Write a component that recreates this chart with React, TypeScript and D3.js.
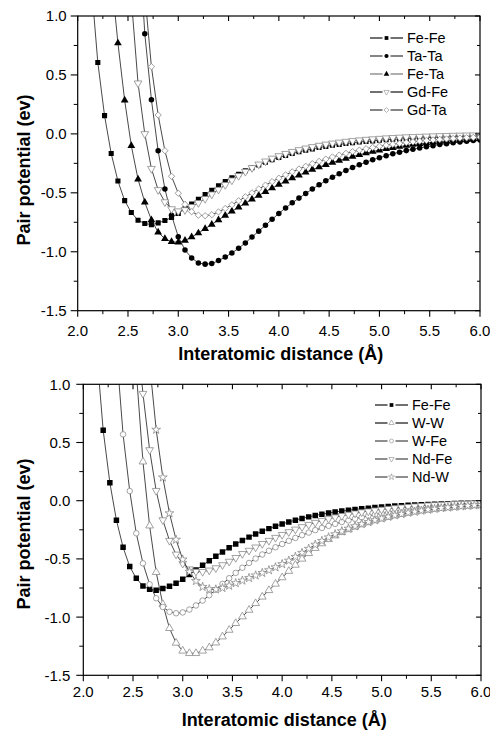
import React from "react";
import * as d3 from "d3";

// Interatomic distance grid (Å)
const distance = [
  2.0, 2.067, 2.133, 2.2, 2.267, 2.333, 2.4, 2.467, 2.533, 2.6, 2.667, 2.733, 2.8, 2.867, 2.933,
  3.0, 3.067, 3.133, 3.2, 3.267, 3.333, 3.4, 3.467, 3.533, 3.6, 3.667, 3.733, 3.8, 3.867, 3.933,
  4.0, 4.067, 4.133, 4.2, 4.267, 4.333, 4.4, 4.467, 4.533, 4.6, 4.667, 4.733, 4.8, 4.867, 4.933,
  5.0, 5.067, 5.133, 5.2, 5.267, 5.333, 5.4, 5.467, 5.533, 5.6, 5.667, 5.733, 5.8, 5.867, 5.933, 6.0,
];

const N = null;

const feFe = [N, N, 1.3, 0.605, 0.155, -0.167, -0.4, -0.566, -0.667, -0.733, -0.76, -0.77, -0.755, -0.735, -0.71,
  -0.675, -0.635, -0.595, -0.555, -0.515, -0.478, -0.44, -0.405, -0.372, -0.342, -0.313, -0.287, -0.263, -0.24, -0.22,
  -0.2, -0.183, -0.167, -0.152, -0.139, -0.127, -0.116, -0.106, -0.097, -0.089, -0.082, -0.075, -0.069, -0.064, -0.059,
  -0.054, -0.05, -0.046, -0.043, -0.04, -0.037, -0.034, -0.032, -0.03, -0.028, -0.026, -0.024, -0.022, -0.021, -0.02, -0.018];

const taTa = [N, N, N, N, N, N, N, N, N, 1.8, 0.85, 0.29, -0.144, -0.467, -0.69,
  -0.872, -0.985, -1.052, -1.095, -1.105, -1.1, -1.075, -1.045, -1.01, -0.97, -0.925, -0.875, -0.825, -0.775, -0.725,
  -0.675, -0.628, -0.585, -0.545, -0.505, -0.468, -0.432, -0.398, -0.367, -0.338, -0.31, -0.285, -0.262, -0.24, -0.22,
  -0.202, -0.185, -0.169, -0.155, -0.142, -0.13, -0.119, -0.109, -0.1, -0.091, -0.083, -0.076, -0.069, -0.063, -0.057, -0.052];

const feTa = [N, N, N, N, N, 1.35, 0.77, 0.285, -0.1, -0.385, -0.58, -0.73, -0.835, -0.89, -0.915,
  -0.92, -0.905, -0.875, -0.842, -0.805, -0.768, -0.73, -0.693, -0.657, -0.622, -0.588, -0.555, -0.522, -0.49, -0.46,
  -0.43, -0.402, -0.375, -0.35, -0.326, -0.303, -0.282, -0.262, -0.243, -0.225, -0.208, -0.192, -0.177, -0.163, -0.15,
  -0.138, -0.127, -0.117, -0.108, -0.099, -0.091, -0.084, -0.077, -0.071, -0.065, -0.06, -0.055, -0.051, -0.047, -0.043, -0.04];

const gdFe = [N, N, N, N, N, N, N, N, 1.15, 0.43, 0.0, -0.295, -0.475, -0.578, -0.637,
  -0.655, -0.645, -0.618, -0.585, -0.55, -0.512, -0.472, -0.432, -0.393, -0.355, -0.32, -0.288, -0.258, -0.232, -0.208,
  -0.187, -0.168, -0.151, -0.136, -0.122, -0.11, -0.099, -0.089, -0.08, -0.072, -0.065, -0.059, -0.053, -0.048, -0.044,
  -0.04, -0.036, -0.033, -0.03, -0.027, -0.025, -0.023, -0.021, -0.019, -0.017, -0.016, -0.014, -0.013, -0.012, -0.011, -0.01];

const gdTa = [N, N, N, N, N, N, N, N, N, N, 1.19, 0.57, 0.16, -0.143, -0.36,
  -0.504, -0.598, -0.66, -0.69, -0.694, -0.686, -0.662, -0.633, -0.602, -0.568, -0.534, -0.5, -0.467, -0.435, -0.405,
  -0.376, -0.348, -0.322, -0.298, -0.275, -0.253, -0.233, -0.214, -0.196, -0.18, -0.165, -0.151, -0.138, -0.126, -0.115,
  -0.105, -0.096, -0.088, -0.08, -0.073, -0.067, -0.061, -0.056, -0.051, -0.047, -0.043, -0.039, -0.036, -0.033, -0.03, -0.028];

const wW = [N, N, N, N, N, N, N, N, 1.11, 0.335, -0.215, -0.615, -0.89, -1.096, -1.222,
  -1.29, -1.311, -1.311, -1.29, -1.262, -1.22, -1.168, -1.111, -1.053, -0.996, -0.939, -0.882, -0.826, -0.77, -0.715,
  -0.66, -0.605, -0.552, -0.5, -0.452, -0.408, -0.368, -0.332, -0.3, -0.272, -0.247, -0.225, -0.205, -0.187, -0.17,
  -0.155, -0.141, -0.128, -0.116, -0.105, -0.095, -0.086, -0.078, -0.071, -0.065, -0.059, -0.054, -0.049, -0.045, -0.041, -0.038];

const wFe = [N, N, N, N, N, 1.3, 0.57, 0.083, -0.28, -0.538, -0.718, -0.838, -0.913, -0.955, -0.967,
  -0.96, -0.935, -0.9, -0.858, -0.812, -0.765, -0.715, -0.666, -0.62, -0.576, -0.535, -0.497, -0.462, -0.43, -0.4,
  -0.372, -0.345, -0.32, -0.296, -0.274, -0.253, -0.234, -0.216, -0.199, -0.183, -0.169, -0.155, -0.142, -0.13, -0.119,
  -0.109, -0.1, -0.091, -0.083, -0.076, -0.069, -0.063, -0.057, -0.052, -0.047, -0.043, -0.039, -0.035, -0.032, -0.029, -0.026];

const ndFe = [N, N, N, N, N, N, N, N, 1.5, 0.92, 0.436, 0.086, -0.166, -0.343, -0.461,
  -0.54, -0.588, -0.608, -0.61, -0.598, -0.578, -0.552, -0.522, -0.49, -0.456, -0.428, -0.4, -0.37, -0.343, -0.317,
  -0.292, -0.268, -0.246, -0.225, -0.206, -0.188, -0.171, -0.156, -0.142, -0.13, -0.118, -0.108, -0.098, -0.09, -0.082,
  -0.075, -0.068, -0.062, -0.057, -0.052, -0.047, -0.043, -0.039, -0.036, -0.033, -0.03, -0.027, -0.025, -0.023, -0.021, -0.019];

const ndW = [N, N, N, N, N, N, N, N, N, N, 1.18, 0.61, 0.2, -0.108, -0.335,
  -0.505, -0.61, -0.69, -0.74, -0.76, -0.762, -0.75, -0.73, -0.708, -0.686, -0.664, -0.642, -0.62, -0.597, -0.572,
  -0.545, -0.515, -0.482, -0.448, -0.413, -0.378, -0.345, -0.315, -0.288, -0.262, -0.24, -0.219, -0.2, -0.183, -0.167,
  -0.152, -0.138, -0.125, -0.114, -0.103, -0.094, -0.085, -0.077, -0.07, -0.064, -0.058, -0.053, -0.048, -0.044, -0.04, -0.037];

const xTicks = [2.0, 2.5, 3.0, 3.5, 4.0, 4.5, 5.0, 5.5, 6.0];
const xMinor = [2.25, 2.75, 3.25, 3.75, 4.25, 4.75, 5.25, 5.75];
const yTicks = [-1.5, -1.0, -0.5, 0.0, 0.5, 1.0];
const yMinor = [-1.25, -0.75, -0.25, 0.25, 0.75];

const topNames = ["Fe-Fe", "Ta-Ta", "Fe-Ta", "Gd-Fe", "Gd-Ta"];
const bottomNames = ["Fe-Fe", "W-W", "W-Fe", "Nd-Fe", "Nd-W"];

const xTitle = "Interatomic distance (Å)";
const yTitle = "Pair potential (ev)";

type Marker = "square" | "circle" | "triangle" | "down" | "diamond" | "star";
type Series = { name: string; values: (number | null)[]; marker: Marker; filled: boolean; legendColor: string; size: number };

const GRAY = "#8c8c8c";

const topSeries: Series[] = [
  { name: topNames[0], values: feFe, marker: "square", filled: true, legendColor: "#111", size: 26 },
  { name: topNames[1], values: taTa, marker: "circle", filled: true, legendColor: "#333", size: 24 },
  { name: topNames[2], values: feTa, marker: "triangle", filled: true, legendColor: "#777", size: 26 },
  { name: topNames[3], values: gdFe, marker: "down", filled: false, legendColor: "#111", size: 26 },
  { name: topNames[4], values: gdTa, marker: "diamond", filled: false, legendColor: "#333", size: 20 },
];

const bottomSeries: Series[] = [
  { name: bottomNames[0], values: feFe, marker: "square", filled: true, legendColor: "#111", size: 30 },
  { name: bottomNames[1], values: wW, marker: "triangle", filled: false, legendColor: "#111", size: 26 },
  { name: bottomNames[2], values: wFe, marker: "circle", filled: false, legendColor: "#444", size: 24 },
  { name: bottomNames[3], values: ndFe, marker: "down", filled: false, legendColor: "#444", size: 26 },
  { name: bottomNames[4], values: ndW, marker: "star", filled: false, legendColor: "#444", size: 24 },
];

function markerPath(m: Marker, size: number): { d: string; rot: number } {
  switch (m) {
    case "square": return { d: d3.symbol(d3.symbolSquare, size)()!, rot: 0 };
    case "circle": return { d: d3.symbol(d3.symbolCircle, size)()!, rot: 0 };
    case "triangle": return { d: d3.symbol(d3.symbolTriangle, size)()!, rot: 0 };
    case "down": return { d: d3.symbol(d3.symbolTriangle, size)()!, rot: 180 };
    case "diamond": return { d: d3.symbol(d3.symbolSquare, size)()!, rot: 45 };
    case "star": return { d: d3.symbol(d3.symbolStar, size)()!, rot: 0 };
  }
}

type Box = { left: number; right: number; top: number; bottom: number };
type LegendCfg = { lineX0: number; lineX1: number; textX: number; y0: number; dy: number };
type TitleCfg = { xTickBase: number; xTitleBase: number; yLabelGap: number; yTitleX: number; yTitleY: number };

const FONT = "'Liberation Sans', Arial, Helvetica, sans-serif";

function Panel({ id, box, series, legend, titles }: { id: string; box: Box; series: Series[]; legend: LegendCfg; titles: TitleCfg }) {
  const x = d3.scaleLinear().domain([2, 6]).range([box.left, box.right]);
  const y = d3.scaleLinear().domain([-1.5, 1]).range([box.bottom, box.top]);
  const line = d3
    .line<[number, number | null]>()
    .defined((d) => d[1] != null)
    .x((d) => x(d[0]))
    .y((d) => y(d[1] as number));

  const clipId = `clip-${id}`;
  return (
    <g>
      <defs>
        <clipPath id={clipId}>
          <rect x={box.left} y={box.top} width={box.right - box.left} height={box.bottom - box.top} />
        </clipPath>
      </defs>
      <g clipPath={`url(#${clipId})`}>
        {series.map((s) => {
          const pts: [number, number | null][] = distance.map((dv, i) => [dv, s.values[i] ?? null]);
          const mp = markerPath(s.marker, s.size);
          return (
            <g key={s.name}>
              <path d={line(pts) || ""} fill="none" stroke="#1a1a1a" strokeWidth={0.8} />
              {pts
                .filter((p) => p[1] != null)
                .map((p, i) => (
                  <path
                    key={i}
                    d={mp.d}
                    transform={`translate(${x(p[0])},${y(p[1] as number)}) rotate(${mp.rot})`}
                    fill={s.filled ? "#000" : "#fff"}
                    stroke={s.filled ? "none" : GRAY}
                    strokeWidth={0.8}
                  />
                ))}
            </g>
          );
        })}
      </g>
      {/* frame */}
      <rect x={box.left} y={box.top} width={box.right - box.left} height={box.bottom - box.top} fill="none" stroke="#000" strokeWidth={1.2} />
      {/* x ticks */}
      {xTicks.map((t) => (
        <g key={`xt${t}`}>
          <line x1={x(t)} x2={x(t)} y1={box.bottom} y2={box.bottom + 6} stroke="#000" strokeWidth={1.1} />
          <line x1={x(t)} x2={x(t)} y1={box.top} y2={box.top + 5} stroke="#000" strokeWidth={1.1} />
          <text x={x(t)} y={titles.xTickBase} textAnchor="middle" fontSize={15} fontFamily={FONT} fill="#000">
            {t.toFixed(1)}
          </text>
        </g>
      ))}
      {xMinor.map((t) => (
        <g key={`xm${t}`}>
          <line x1={x(t)} x2={x(t)} y1={box.bottom} y2={box.bottom + 3.5} stroke="#000" strokeWidth={1} />
          <line x1={x(t)} x2={x(t)} y1={box.top} y2={box.top + 3} stroke="#000" strokeWidth={1} />
        </g>
      ))}
      {/* y ticks */}
      {yTicks.map((t) => (
        <g key={`yt${t}`}>
          <line x1={box.left - 7} x2={box.left} y1={y(t)} y2={y(t)} stroke="#000" strokeWidth={1.1} />
          <line x1={box.right - 5} x2={box.right} y1={y(t)} y2={y(t)} stroke="#000" strokeWidth={1.1} />
          <text x={box.left - titles.yLabelGap} y={y(t)} dy="0.36em" textAnchor="end" fontSize={15} fontFamily={FONT} fill="#000">
            {t.toFixed(1)}
          </text>
        </g>
      ))}
      {yMinor.map((t) => (
        <g key={`ym${t}`}>
          <line x1={box.left - 4} x2={box.left} y1={y(t)} y2={y(t)} stroke="#000" strokeWidth={1} />
          <line x1={box.right - 3} x2={box.right} y1={y(t)} y2={y(t)} stroke="#000" strokeWidth={1} />
        </g>
      ))}
      {/* titles */}
      <text x={(box.left + box.right) / 2 + 2} y={titles.xTitleBase} textAnchor="middle" fontSize={18} fontWeight="bold" fontFamily={FONT} fill="#000">
        {xTitle}
      </text>
      <text
        transform={`translate(${titles.yTitleX},${titles.yTitleY}) rotate(-90)`}
        textAnchor="middle"
        dy="0.36em"
        fontSize={18}
        fontWeight="bold"
        fontFamily={FONT}
        fill="#000"
      >
        {yTitle}
      </text>
      {/* legend */}
      {series.map((s, i) => {
        const ly = legend.y0 + i * legend.dy;
        const mid = (legend.lineX0 + legend.lineX1) / 2;
        const mp = markerPath(s.marker, s.filled ? 14 : 12);
        return (
          <g key={`lg${s.name}`}>
            <line x1={legend.lineX0} x2={mid - 4} y1={ly} y2={ly} stroke={s.legendColor} strokeWidth={1.2} />
            <line x1={mid + 4} x2={legend.lineX1} y1={ly} y2={ly} stroke={s.legendColor} strokeWidth={1.2} />
            <path
              d={mp.d}
              transform={`translate(${mid},${ly}) rotate(${mp.rot})`}
              fill={s.filled ? "#000" : "#fff"}
              stroke={s.filled ? "none" : "#999"}
              strokeWidth={0.7}
            />
            <text x={legend.textX} y={ly} dy="0.36em" fontSize={14.5} fontFamily={FONT} fill="#000">
              {s.name}
            </text>
          </g>
        );
      })}
    </g>
  );
}

export default function App() {
  return (
    <svg width={490} height={731} style={{ position: "absolute", left: 0, top: 0, background: "#fff" }}>
      <rect x={0} y={0} width={490} height={731} fill="#fff" />
      <Panel
        id="top"
        box={{ left: 77.7, right: 480, top: 16, bottom: 310.7 }}
        series={topSeries}
        legend={{ lineX0: 370, lineX1: 403, textX: 407, y0: 38, dy: 18 }}
        titles={{ xTickBase: 336, xTitleBase: 360, yLabelGap: 11, yTitleX: 23.5, yTitleY: 170 }}
      />
      <Panel
        id="bottom"
        box={{ left: 83.3, right: 481, top: 384.3, bottom: 675.3 }}
        series={bottomSeries}
        legend={{ lineX0: 375, lineX1: 408, textX: 412, y0: 405, dy: 18 }}
        titles={{ xTickBase: 697, xTitleBase: 726, yLabelGap: 13, yTitleX: 23.5, yTitleY: 534 }}
      />
    </svg>
  );
}
